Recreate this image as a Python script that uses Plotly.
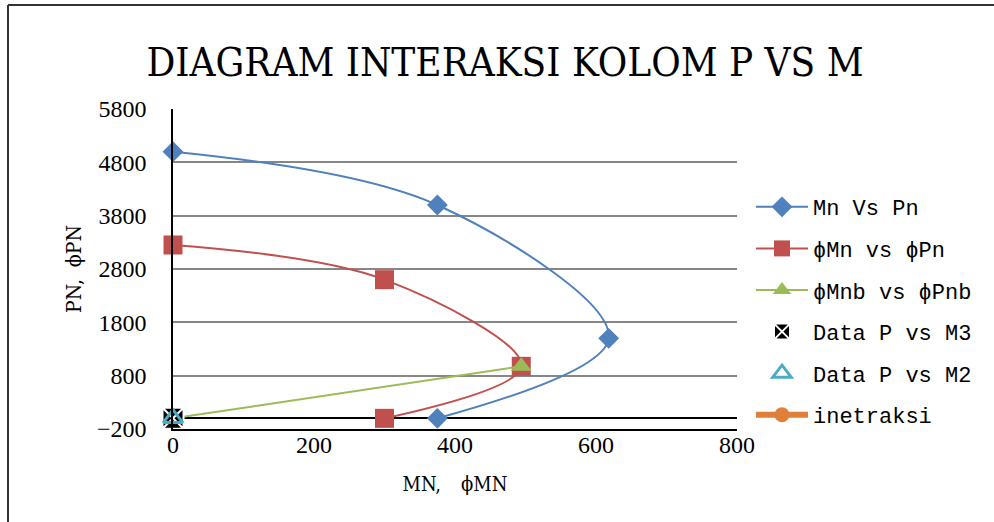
import plotly.graph_objects as go

# ---- data ----
mn_pn_m = [0, 375, 618, 375]
mn_pn_p = [5000, 4000, 1500, 0]

phi_mn_m = [0, 300, 494, 300]
phi_mn_p = [3250, 2600, 975, 0]

phi_mnb_m = [0, 494]
phi_mnb_p = [0, 975]

m3_m = [0]
m3_p = [0]

m2_m = [0]
m2_p = [0]

inetraksi_m = [None]
inetraksi_p = [None]

x_ticks = [0, 200, 400, 600, 800]
y_ticks = [-200, 800, 1800, 2800, 3800, 4800, 5800]

W, H = 994, 522
L, R, T, B = 173, 257, 109, 93
pw, ph = W - L - R, H - T - B

def px_x(p):
    return (p - L) / pw

def px_y(p):
    return (H - B - p) / ph

fig = go.Figure()
fig.add_trace(go.Scatter(x=mn_pn_m, y=mn_pn_p, name="Mn Vs Pn", mode="lines+markers",
                         line=dict(color="#4F81BD", width=2, shape="spline", smoothing=1),
                         marker=dict(symbol="diamond", size=16, color="#4F81BD"),
                         legendgroup="a", cliponaxis=False))
fig.add_trace(go.Scatter(x=phi_mn_m, y=phi_mn_p, name="ϕMn vs ϕPn", mode="lines+markers",
                         line=dict(color="#C0504D", width=2, shape="spline", smoothing=1),
                         marker=dict(symbol="square", size=19, color="#C0504D"),
                         legendgroup="b", cliponaxis=False))
fig.add_trace(go.Scatter(x=phi_mnb_m, y=phi_mnb_p, name="ϕMnb vs ϕPnb", mode="lines+markers",
                         line=dict(color="#9BBB59", width=2),
                         marker=dict(symbol="triangle-up", size=18, color="#9BBB59"),
                         legendgroup="c", cliponaxis=False))
fig.add_trace(go.Scatter(x=m3_m, y=m3_p, name="Data P vs M3", mode="markers",
                         marker=dict(symbol="square-x", size=21, color="black",
                                     line=dict(color="white", width=2)),
                         legendgroup="d", cliponaxis=False))
fig.add_trace(go.Scatter(x=m2_m, y=m2_p, name="Data P vs M2", mode="markers",
                         marker=dict(symbol="triangle-up-open", size=17, color="#4BACC6",
                                     line=dict(color="#4BACC6", width=3)),
                         legendgroup="e", cliponaxis=False))
fig.add_trace(go.Scatter(x=inetraksi_m, y=inetraksi_p, name="inetraksi", mode="lines+markers",
                         line=dict(color="#E07F3A", width=6),
                         marker=dict(symbol="circle", size=15, color="#E07F3A"),
                         legendgroup="f"))

fig.update_layout(
    width=W, height=H,
    margin=dict(l=L, r=R, t=T, b=B),
    paper_bgcolor="white", plot_bgcolor="white",
    title=dict(text="DIAGRAM INTERAKSI KOLOM P VS M", x=505 / W, xanchor="center",
               y=1 - 62 / H, yanchor="middle",
               font=dict(family="DejaVu Serif Condensed, DejaVu Serif", size=40, color="black")),
    legend=dict(x=px_x(751), y=px_y(186), xanchor="left", yanchor="top",
                font=dict(family="Liberation Mono", size=22, color="black"),
                tracegroupgap=10, traceorder="grouped", itemwidth=52,
                bgcolor="rgba(0,0,0,0)"),
    showlegend=True,
    shapes=[
        dict(type="line", xref="paper", yref="paper", x0=px_x(8), x1=px_x(W + 2),
             y0=px_y(5), y1=px_y(5), line=dict(color="#333333", width=2)),
        dict(type="line", xref="paper", yref="paper", x0=px_x(8), x1=px_x(8),
             y0=px_y(5), y1=px_y(H + 2), line=dict(color="#333333", width=2)),
    ],
)

fig.update_xaxes(range=[0, 800], tickvals=x_ticks, ticktext=[str(v) for v in x_ticks],
                 showgrid=False, zeroline=False, showline=True, linecolor="black", linewidth=1.5,
                 tickfont=dict(family="Liberation Serif", size=24, color="black"),
                 ticklabelstandoff=-7,
                 title=dict(text="MN,\u3000ϕMN", font=dict(family="DejaVu Serif Condensed, DejaVu Serif", size=20, color="black"),
                            standoff=20))
fig.update_yaxes(range=[-200, 5800], tickvals=y_ticks, ticktext=[("\u2212" + str(-v)) if v < 0 else str(v) for v in y_ticks],
                 showgrid=True, gridcolor="#868686", gridwidth=1.5,
                 zeroline=True, zerolinecolor="black", zerolinewidth=1.5,
                 showline=True, linecolor="black", linewidth=1.5,
                 tickfont=dict(family="Liberation Serif", size=24, color="black"),
                 ticks="", ticklabelstandoff=20,
                 title=dict(text="PN,\u00a0\u00a0ϕPN", font=dict(family="DejaVu Serif Condensed, DejaVu Serif", size=21, color="black"),
                            standoff=10))

fig.write_html("out.html")
